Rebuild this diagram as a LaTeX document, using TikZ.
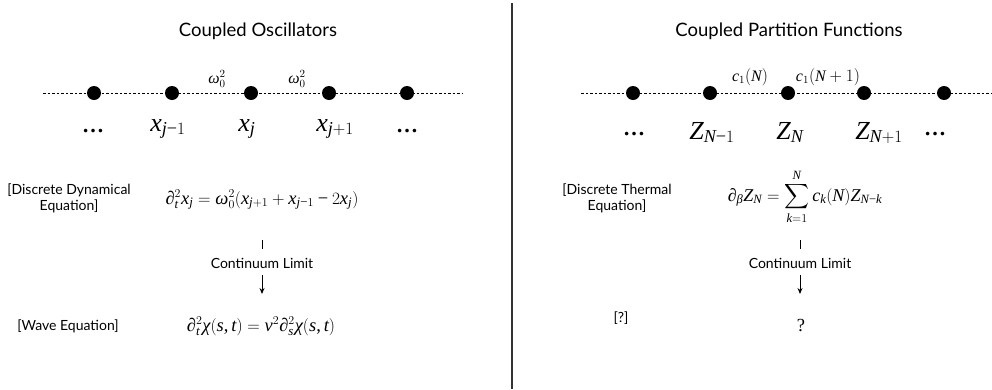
\documentclass[tikz,border=0pt]{standalone}
\usepackage{exscale}
\usepackage{fontspec}
\setmainfont{Lato}
\newfontfamily\lsfam[NFSSFamily=lsf]{Liberation Serif}
\DeclareSymbolFont{lsit}{TU}{lsf}{m}{it}
\DeclareSymbolFont{lsrm}{TU}{lsf}{m}{n}
\makeatletter
\@tempcnta=`a
\loop \Umathcode\@tempcnta=0 \symlsit \@tempcnta \ifnum\@tempcnta<`z \advance\@tempcnta by 1 \repeat
\@tempcnta=`A
\loop \Umathcode\@tempcnta=0 \symlsit \@tempcnta \ifnum\@tempcnta<`Z \advance\@tempcnta by 1 \repeat
\@tempcnta=`0
\loop \Umathcode\@tempcnta=0 \symlsrm \@tempcnta \ifnum\@tempcnta<`9 \advance\@tempcnta by 1 \repeat
\makeatother
\Umathcode`+=2 \symlsrm `+
\Umathcode`-=2 \symlsrm "2212
\Umathcode`==3 \symlsrm `=
\Umathcode`(=4 \symlsrm `(
\Umathcode`)=5 \symlsrm `)
\Umathcode`,=6 \symlsrm `,
\Umathchardef\omega=0 \symlsit "03C9
\Umathchardef\chi=0 \symlsit "03C7
\Umathchardef\beta=0 \symlsit "03B2
\Umathchardef\partial=0 \symlsit "2202
\usetikzlibrary{arrows.meta}
\begin{document}
\begin{tikzpicture}[x=1pt,y=-1pt,
  title/.style={font=\fontsize{18.5}{22}\selectfont},
  lbl/.style={font=\fontsize{14}{16}\selectfont, align=center},
  eqn/.style={font=\fontsize{18.5}{22}\selectfont, anchor=base},
  big/.style={font=\fontsize{26}{30}\selectfont, anchor=base},
  ell/.style={font=\fontsize{22}{26}\lsfam\bfseries, anchor=base},
  small/.style={font=\fontsize{16}{18}\selectfont},
  dot/.style={circle, fill=black, inner sep=0pt, minimum size=14pt},
  chain/.style={dash pattern=on 2.5pt off 2pt, line width=0.9pt},
  arr/.style={-{Stealth[length=6pt,width=5pt]}, line width=0.9pt}]
\useasboundingbox (0,0) rectangle (992,389);
% divider
\coordinate (dtop) at (512,3);
\coordinate (dbot) at (512,389);
\draw[line width=1.6pt, black!80] (dtop) -- (dbot);

% ===== Left panel =====
\node[title] (tl) at (258,31) {Coupled Oscillators};
\coordinate (ls) at (43,93);
\coordinate (le) at (462,93);
\draw[chain] (ls) -- (le);
\foreach \i/\x in {1/94,2/172,3/251,4/329,5/407}{
  \node[dot] (L\i) at (\x,93) {};
}
\node[small] (w1) at (217,79) {$\omega_0^2$};
\node[small] (w2) at (297,79) {$\omega_0^2$};
\node[ell] (ld1) at (93,132) {…};
\node[big] (lx1) at (168,131) {$x_{j-1}$};
\node[big] (lx2) at (247,131) {$x_j$};
\node[big] (lx3) at (335,131) {$x_{j+1}$};
\node[ell] (ld2) at (407,132) {…};

\node[lbl] (dde) at (69,198) {[Discrete Dynamical\\Equation]};
\node[eqn] (eq1) at (262,204) {$\partial_t^2 x_j = \omega_0^2(x_{j+1} + x_{j-1} - 2x_j)$};
\coordinate (t1a) at (262,240);
\coordinate (t1b) at (262,249);
\draw[line width=0.9pt] (t1a) -- (t1b);
\node[lbl] (cl1) at (262,263) {Continuum Limit};
\coordinate (a1a) at (262,275);
\coordinate (a1b) at (262,294);
\draw[arr] (a1a) -- (a1b);
\node[lbl] (we) at (68,326) {[Wave Equation]};
\node[eqn] (eq2) at (261,331) {$\partial_t^2 \chi(s,t) = v^2 \partial_s^2 \chi(s,t)$};

% ===== Right panel =====
\node[title] (tr) at (789,31) {Coupled Partition Functions};
\coordinate (rs) at (581,93);
\coordinate (re) at (992,93);
\draw[chain] (rs) -- (re);
\foreach \i/\x in {1/633,2/710,3/788,4/864,5/944}{
  \node[dot] (R\i) at (\x,93) {};
}
\node[small] (c1) at (750,77) {$c_1(N)$};
\node[small] (c2) at (828,77) {$c_1(N+1)$};
\node[ell] (rd1) at (634,135) {…};
\node[big] (rz1) at (712,139) {$Z_{N-1}$};
\node[big] (rz2) at (790,139) {$Z_N$};
\node[big] (rz3) at (879,139) {$Z_{N+1}$};
\node[ell] (rd2) at (935,135) {…};

\node[lbl] (dte) at (617,198) {[Discrete Thermal\\Equation]};
\node[eqn, font=\fontsize{18}{21}\selectfont] (eq3) at (805,201) {$\displaystyle \partial_\beta Z_N = \sum_{k=1}^{N} c_k(N) Z_{N-k}$};
\coordinate (t2a) at (800,240);
\coordinate (t2b) at (800,249);
\draw[line width=0.9pt] (t2a) -- (t2b);
\node[lbl] (cl2) at (800,263) {Continuum Limit};
\coordinate (a2a) at (800,275);
\coordinate (a2b) at (800,294);
\draw[arr] (a2a) -- (a2b);
\node[lbl] (uq) at (621,318) {[?]};
\node[eqn, font=\fontsize{18.5}{22}\lsfam] (q) at (801,331) {?};
\end{tikzpicture}
\end{document}
